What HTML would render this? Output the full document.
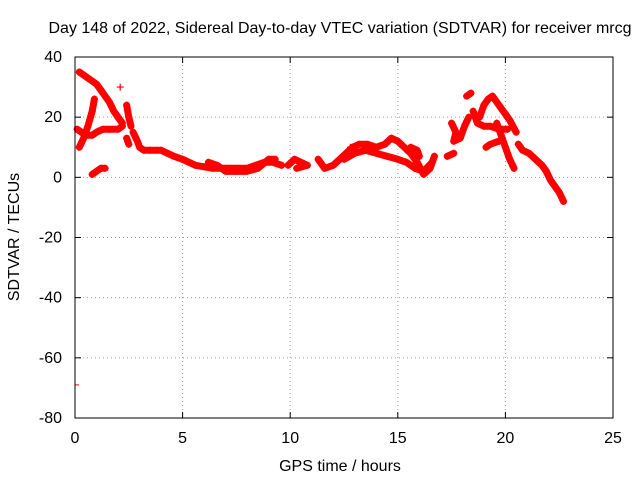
<!DOCTYPE html>
<html><head><meta charset="utf-8"><style>
body{margin:0;background:#fff}
svg{display:block;font-family:"Liberation Sans",sans-serif;font-size:16px}
</style></head><body>
<svg id="chart" width="640" height="480" viewBox="0 0 640 480">
<rect width="640" height="480" fill="#fff"/>
<text x="340" y="33" text-anchor="middle">Day 148 of 2022, Sidereal Day-to-day VTEC variation (SDTVAR) for receiver mrcg</text>
<g id="grid"></g><g id="axes"></g><g id="marks"></g>
<rect x="75" y="57" width="538" height="361" fill="none" stroke="#000" stroke-width="1"/>
<text x="340" y="471" text-anchor="middle">GPS time / hours</text>
<text transform="translate(19,237) rotate(-90)" text-anchor="middle">SDTVAR / TECUs</text>
</svg>
<script>
const xTicks=[0,5,10,15,20,25];
const yTicks=[40,20,0,-20,-40,-60,-80];
const trackA=[[0.2,35],[0.4,34],[0.6,33],[0.8,32],[1.0,31],[1.2,29],[1.4,27],[1.6,25],[1.8,22],[2.0,20],[2.2,18]];
const trackB=[[0.1,16],[0.3,15],[0.5,14],[0.8,14],[1.0,15],[1.3,16],[1.6,16],[2.0,16],[2.2,17]];
const trackC=[[0.2,10],[0.4,13],[0.6,17],[0.8,22],[0.9,26]];
const trackD=[[0.8,1],[1.0,2],[1.2,3],[1.4,3]];
const trackE=[[2.4,24],[2.5,20],[2.6,17]];
const trackF=[[2.4,13],[2.5,11]];
const trackG=[[2.7,15],[2.9,12],[3.0,10],[3.2,9],[3.5,9],[3.8,9],[4.0,9],[4.3,8],[4.6,7],[5.0,6],[5.3,5],[5.6,4],[6.0,3.5],[6.4,3],[6.8,3],[7.2,3],[7.6,3],[8.0,3],[8.4,4],[8.8,5],[9.2,5],[9.6,4]];
const trackH=[[6.2,5],[6.6,4],[7.0,2],[7.5,2],[8.0,2],[8.5,3],[9.0,6],[9.3,6]];
const trackI=[[9.9,4],[10.2,6],[10.5,5],[10.8,4],[10.3,3]];
const trackJ=[[11.3,6],[11.6,3],[12.0,4],[12.3,6],[12.6,8],[12.9,10],[13.2,11],[13.6,11],[14.0,10],[14.4,11],[14.7,13],[15.0,12],[15.3,10],[15.6,8],[15.9,5],[16.2,1],[16.5,3],[16.7,7]];
const trackK=[[12.5,6],[13.0,8],[13.5,9],[14.0,8],[14.5,7],[15.0,6],[15.4,5],[15.8,3],[16.2,2],[16.6,5]];
const trackL=[[15.6,10],[15.9,9],[16.0,7]];
const trackM=[[17.3,7],[17.6,8]];
const trackN=[[17.5,18],[17.7,15],[17.6,12],[17.9,13],[18.1,17],[18.3,20]];
const trackO=[[18.2,27],[18.4,28]];
const trackP=[[18.5,22],[18.7,18],[19.0,17],[19.3,17],[19.7,16],[20.1,16]];
const trackQ=[[18.8,20],[19.0,24],[19.2,26],[19.4,27],[19.6,25],[19.9,22],[20.2,19],[20.5,15]];
const trackR=[[19.1,10],[19.3,11],[19.7,12]];
const trackS=[[19.6,18],[19.8,14],[20.0,10],[20.2,6],[20.4,3]];
const trackT=[[20.6,11],[20.8,9],[21.1,8],[21.4,6],[21.7,4],[21.9,2],[22.1,-1],[22.3,-3],[22.5,-5],[22.7,-8]];
const singles=[[2.1,30],[12.8,10]];
const dashPoints=[[0.05,-69]];
const tracks=[trackA,trackB,trackC,trackD,trackE,trackF,trackG,trackH,trackI,trackJ,trackK,trackL,trackM,trackN,trackO,trackP,trackQ,trackR,trackS,trackT];

const X0=75,X1=613,Y0=418,Y1=57;
const xs=v=>X0+(v-0)/(25-0)*(X1-X0);
const ys=v=>Y0-(v+80)/(120)*(Y0-Y1);
const NS="http://www.w3.org/2000/svg";
const grid=document.getElementById('grid'),axes=document.getElementById('axes'),marks=document.getElementById('marks');
function mk(tag,attrs,parent){const e=document.createElementNS(NS,tag);for(const k in attrs)e.setAttribute(k,attrs[k]);parent.appendChild(e);return e;}
xTicks.forEach(t=>{
  const x=xs(t);
  if(t>0&&t<25){const g=mk('line',{x1:x,x2:x,y1:Y1,y2:Y0,stroke:'#a0a0a0','stroke-dasharray':'1,3'},grid);
  
  }
  mk('line',{x1:x,x2:x,y1:Y0,y2:Y0-6,stroke:'#000'},axes);
  mk('line',{x1:x,x2:x,y1:Y1,y2:Y1+6,stroke:'#000'},axes);
  const l=mk('text',{x:x,y:443,'text-anchor':'middle'},axes);l.textContent=t;
  
  
});
yTicks.forEach(t=>{
  const y=ys(t);
  if(t>-80&&t<40){const g=mk('line',{x1:X0,x2:X1,y1:y,y2:y,stroke:'#a0a0a0','stroke-dasharray':'1,3'},grid);
  
  }
  mk('line',{x1:X0,x2:X0+6,y1:y,y2:y,stroke:'#000'},axes);
  mk('line',{x1:X1,x2:X1-6,y1:y,y2:y,stroke:'#000'},axes);
  const l=mk('text',{x:62,y:y+5,'text-anchor':'end'},axes);l.textContent=t;
  
  
});
function plus(p){
  const x=xs(p[0]),y=ys(p[1]);
  const e=mk('path',{d:`M${x-3.5},${y}h7M${x},${y-3.5}v7`,stroke:'#f00','stroke-width':1.2,fill:'none'},marks);
  
  
}
tracks.forEach(tr=>{
  const pl=mk('polyline',{points:tr.map(p=>xs(p[0])+','+ys(p[1])).join(' '),fill:'none',stroke:'#f00','stroke-width':7,'stroke-linecap':'round','stroke-linejoin':'round'},marks);
  
  
  tr.forEach(plus);
});
singles.forEach(plus);
dashPoints.forEach(p=>{
  const x=xs(p[0]),y=ys(p[1]);
  const e=mk('path',{d:`M${x-1},${y}h4`,stroke:'#f00','stroke-width':1,fill:'none'},marks);
  
  
});
</script>
</body></html>
